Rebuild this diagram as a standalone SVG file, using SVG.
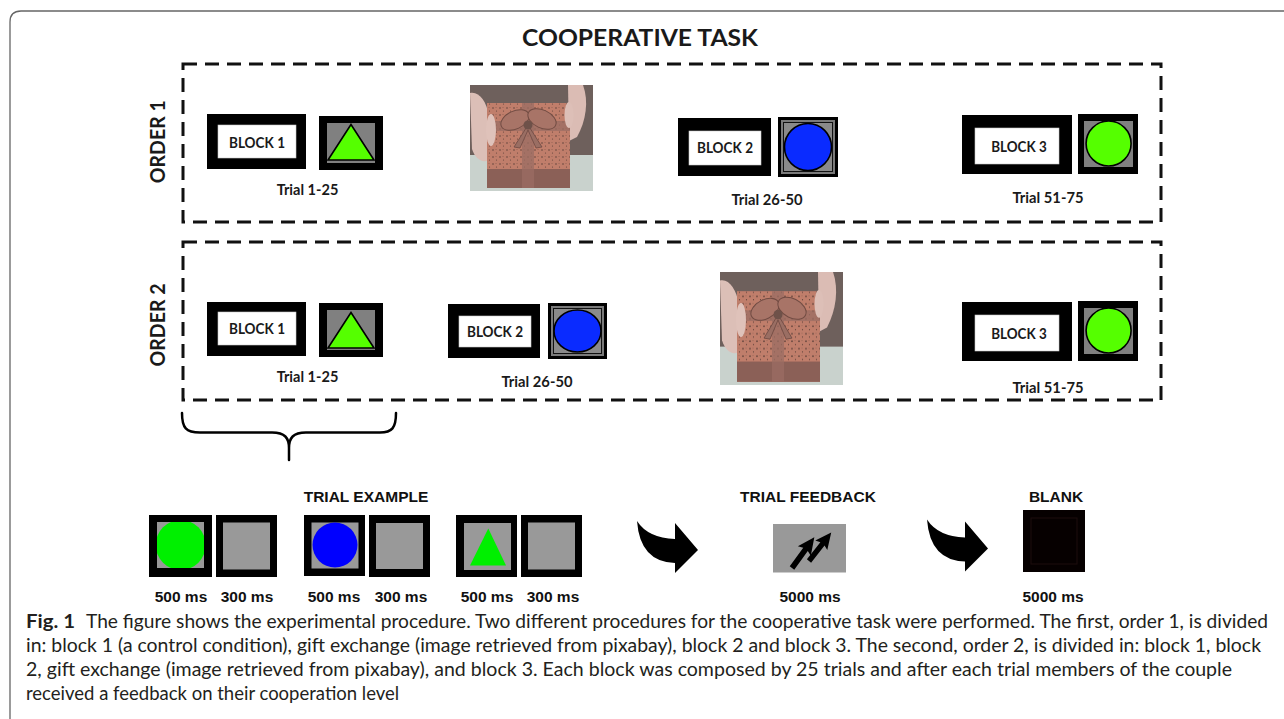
<svg xmlns="http://www.w3.org/2000/svg" width="1284" height="719" viewBox="0 0 1284 719">
<style>
.dash{fill:none;stroke:#111;stroke-width:3;stroke-dasharray:14 8}
.blk{fill:#000}
.wht{fill:#fff;stroke:#c8c8c8;stroke-width:.6}
.gry{fill:#808080}
.gry2{fill:#999}
.lbl{font-family:Lato,'Liberation Sans',sans-serif;font-weight:700;fill:#1a1a1a;text-anchor:middle}
.blab{font-size:15px}
.tri{font-size:14.5px}
.ord{font-size:20px}
.ar{font-family:'Liberation Sans',Arial,sans-serif;font-weight:700;fill:#111;text-anchor:middle;font-size:15.5px}
.cap{font-family:Lato,'Liberation Sans',sans-serif;font-size:18.5px;fill:#231f20}
.green{fill:#55ff00;stroke:#000;stroke-width:1.6}
.blue{fill:#0a2bff;stroke:#000;stroke-width:1.6}
.conn{fill:none;stroke:#000;stroke-width:2.5;stroke-linecap:round}
</style>
<defs>
<pattern id="speck" width="7" height="7" patternUnits="userSpaceOnUse">
<circle cx="2" cy="2" r="0.8" fill="#4a2820"/><circle cx="5.5" cy="5" r="0.6" fill="#4a2820"/><circle cx="5" cy="1.5" r="0.4" fill="#4a2820"/>
</pattern>
<symbol id="gift" viewBox="0 0 123 106" preserveAspectRatio="none">
<rect x="0" y="0" width="123" height="72" fill="#5b4a46"/>
<rect x="0" y="70" width="123" height="36" fill="#c2ccc7"/>
<path d="M0,8 C9,6 16,16 19,30 L23,72 C15,80 6,76 2,64 Z" fill="#d8b7ae"/>
<path d="M98,0 L113,0 C119,16 116,36 107,52 L99,56 Z" fill="#d6b3aa"/>
<rect x="17" y="18" width="83" height="85" fill="#b86d57"/>
<rect x="17" y="18" width="83" height="66" fill="url(#speck)"/>
<rect x="17" y="84" width="83" height="19" fill="#7b4a40"/>
<rect x="52" y="18" width="12" height="85" fill="#8d5a4e" opacity="0.75"/>
<rect x="17" y="36" width="83" height="10" fill="#8d5a4e" opacity="0.75"/>
<ellipse cx="45" cy="35" rx="15" ry="9" transform="rotate(-25 45 35)" fill="#9c6153" stroke="#5e3329" stroke-width="1"/>
<ellipse cx="72" cy="34" rx="15" ry="9" transform="rotate(25 72 34)" fill="#9c6153" stroke="#5e3329" stroke-width="1"/>
<path d="M58,40 L44,62 L50,63 L58,45 L66,63 L72,62 Z" fill="#8d5a4e" stroke="#5a3028" stroke-width="0.8"/>
<circle cx="58" cy="40" r="4.5" fill="#5a3a30"/>
<ellipse cx="21" cy="45" rx="5" ry="16" fill="#dbbab1"/>
<ellipse cx="99" cy="30" rx="4.5" ry="13" fill="#d9b7ae"/>
<rect x="0" y="0" width="123" height="106" fill="#fff" opacity="0.12"/>
</symbol>
<clipPath id="c1"><rect x="1084" y="121" width="49" height="46"/></clipPath>
<clipPath id="c2"><rect x="1084" y="308" width="49" height="46"/></clipPath>
<clipPath id="c3"><rect x="157" y="522" width="47" height="46"/></clipPath>
<polygon id="fbarrow" points="0,-2.8 23,-2.8 21,-8 38,0 21,8 23,2.8 0,2.8" fill="#000"/>
<path id="curv" d="M637,521 Q648,538 675,539 L675,523 L698,550 L675,573 L675,563 Q640,562 637,521 Z" fill="#000"/>
</defs>

<rect x="0" y="0" width="1284" height="719" fill="#fff"/>
<path d="M10,719 L10,22 Q10,11 21,11 L1284,11" fill="none" stroke="#666" stroke-width="1.3"/>

<text class="lbl" x="640" y="46" font-size="22" textLength="236" lengthAdjust="spacingAndGlyphs">COOPERATIVE TASK</text>

<g id="order1">
<rect class="dash" x="183" y="64" width="978" height="158"/>
<text class="lbl ord" transform="translate(165,141.7) rotate(-90)" textLength="83" lengthAdjust="spacingAndGlyphs">ORDER 1</text>
</g>
<g id="order2">
<rect class="dash" x="183" y="242" width="978" height="158"/>
<text class="lbl ord" transform="translate(165,325) rotate(-90)" textLength="83" lengthAdjust="spacingAndGlyphs">ORDER 2</text>
</g>

<g id="o1-block1">
<rect class="blk" x="207" y="114" width="99" height="55"/>
<rect class="wht" x="218" y="125" width="78" height="33"/>
<text class="lbl blab" x="257" y="147.5" textLength="56" lengthAdjust="spacingAndGlyphs">BLOCK 1</text>
<rect class="blk" x="319" y="116" width="64" height="54"/>
<rect class="gry" x="327" y="123" width="48" height="40"/>
<polygon class="green" points="351,124.5 328,160 374,160"/>
<text class="lbl tri" x="307.5" y="195" textLength="61.7" lengthAdjust="spacingAndGlyphs">Trial 1-25</text>
</g>
<g id="o1-gift"><use href="#gift" x="470" y="85" width="123" height="106"/></g>
<g id="o1-block2">
<rect class="blk" x="678" y="118" width="93" height="58"/>
<rect class="wht" x="689" y="131" width="72" height="34"/>
<text class="lbl blab" x="725" y="153" textLength="56" lengthAdjust="spacingAndGlyphs">BLOCK 2</text>
<rect class="blk" x="778" y="117" width="60" height="60"/>
<rect fill="#7a7a7a" x="781" y="120" width="54" height="54"/>
<rect fill="#8a8a8a" stroke="#111" stroke-width="1" x="783.5" y="122.5" width="49" height="49"/>
<circle class="blue" cx="808" cy="147" r="23.5"/>
<text class="lbl tri" x="767" y="205" textLength="71" lengthAdjust="spacingAndGlyphs">Trial 26-50</text>
</g>
<g id="o1-block3">
<rect class="blk" x="962" y="115" width="110" height="59"/>
<rect class="wht" x="975" y="128" width="84" height="36"/>
<text class="lbl blab" x="1019" y="151.5" textLength="55.5" lengthAdjust="spacingAndGlyphs">BLOCK 3</text>
<rect class="blk" x="1078" y="114" width="60" height="60"/>
<rect class="gry" x="1084" y="121" width="49" height="46"/>
<circle class="green" cx="1108.6" cy="143.5" r="22.5" clip-path="url(#c1)"/>
<text class="lbl tri" x="1048" y="203" textLength="71" lengthAdjust="spacingAndGlyphs">Trial 51-75</text>
</g>

<g id="o2-block1">
<rect class="blk" x="207" y="302" width="99" height="54"/>
<rect class="wht" x="218" y="312" width="78" height="33"/>
<text class="lbl blab" x="257" y="334" textLength="56" lengthAdjust="spacingAndGlyphs">BLOCK 1</text>
<rect class="blk" x="319" y="303" width="64" height="54"/>
<rect class="gry" x="327" y="310" width="48" height="40"/>
<polygon class="green" points="351,312.5 328,348 374,348"/>
<text class="lbl tri" x="307.5" y="382" textLength="61.7" lengthAdjust="spacingAndGlyphs">Trial 1-25</text>
</g>
<g id="o2-block2">
<rect class="blk" x="448" y="304" width="92" height="54"/>
<rect class="wht" x="459" y="316" width="72" height="31"/>
<text class="lbl blab" x="495" y="337" textLength="56" lengthAdjust="spacingAndGlyphs">BLOCK 2</text>
<rect class="blk" x="548" y="303" width="59" height="56"/>
<rect fill="#7a7a7a" x="551" y="306" width="53" height="50"/>
<rect fill="#8a8a8a" stroke="#111" stroke-width="1" x="553.5" y="308.5" width="48" height="45"/>
<ellipse class="blue" cx="577.5" cy="331" rx="23.5" ry="21"/>
<text class="lbl tri" x="537" y="387" textLength="71" lengthAdjust="spacingAndGlyphs">Trial 26-50</text>
</g>
<g id="o2-gift"><use href="#gift" x="720" y="272" width="123" height="113"/></g>
<g id="o2-block3">
<rect class="blk" x="962" y="302" width="110" height="59"/>
<rect class="wht" x="975" y="315" width="84" height="36"/>
<text class="lbl blab" x="1019" y="338.5" textLength="55.5" lengthAdjust="spacingAndGlyphs">BLOCK 3</text>
<rect class="blk" x="1078" y="301" width="60" height="60"/>
<rect class="gry" x="1084" y="308" width="49" height="46"/>
<circle class="green" cx="1108.6" cy="330.5" r="22.5" clip-path="url(#c2)"/>
<text class="lbl tri" x="1048" y="393" textLength="71" lengthAdjust="spacingAndGlyphs">Trial 51-75</text>
</g>

<g id="connectors">
<path class="conn" d="M182,413 C182,428 186,432.5 200,432.5 L272,432.5 C285,432.5 289,438 289,448 L289,460 M289,448 C289,438 293,432.5 306,432.5 L380,432.5 C392,432.5 396,428 396,413"/>
<use href="#curv"/>
<use href="#curv" transform="translate(290,-1.5)"/>
</g>

<g id="trial-example">
<text class="ar" x="366" y="502">TRIAL EXAMPLE</text>
<rect class="blk" x="149" y="515" width="63" height="62"/>
<rect class="gry2" x="157" y="522" width="47" height="46"/>
<circle cx="180.7" cy="545" r="25" fill="#00f000" clip-path="url(#c3)"/>
<rect class="blk" x="216" y="515" width="61" height="62"/>
<rect class="gry2" x="223" y="522.5" width="47" height="47"/>
<rect class="blk" x="304" y="515" width="61" height="61"/>
<rect class="gry2" x="311.5" y="522.5" width="47" height="46"/>
<circle cx="335" cy="545" r="22.5" fill="#0000ff"/>
<rect class="blk" x="369" y="515" width="61" height="62"/>
<rect class="gry2" x="376" y="523" width="47" height="46"/>
<rect class="blk" x="456" y="515" width="61" height="62"/>
<rect class="gry2" x="464" y="523" width="47" height="47"/>
<polygon points="488.3,528.5 470,565.5 506,565.5" fill="#00f000"/>
<rect class="blk" x="521" y="515" width="61" height="62"/>
<rect class="gry2" x="528" y="522.5" width="47" height="47"/>
<text class="ar" x="181" y="602">500 ms</text>
<text class="ar" x="247" y="602">300 ms</text>
<text class="ar" x="334" y="602">500 ms</text>
<text class="ar" x="401" y="602">300 ms</text>
<text class="ar" x="487" y="602">500 ms</text>
<text class="ar" x="553" y="602">300 ms</text>
</g>

<g id="trial-feedback">
<text class="ar" x="808" y="502">TRIAL FEEDBACK</text>
<rect class="gry2" x="773" y="524" width="73" height="48.5"/>
<use href="#fbarrow" transform="translate(792,568) rotate(-54)"/>
<use href="#fbarrow" transform="translate(809,561) rotate(-52) scale(0.95)"/>
<text class="ar" x="810" y="602">5000 ms</text>
</g>

<g id="blank">
<text class="ar" x="1056" y="502">BLANK</text>
<rect x="1023" y="510" width="62" height="62" fill="#060000"/>
<rect x="1031" y="518" width="46" height="46" fill="none" stroke="#1c0c0c" stroke-width="1"/>
<text class="ar" x="1053" y="602">5000 ms</text>
</g>

<g id="caption">
<text class="cap" x="26" y="628" font-weight="700" font-size="18.5" textLength="49" lengthAdjust="spacingAndGlyphs">Fig. 1</text>
<text class="cap" x="86" y="628" textLength="1182" lengthAdjust="spacingAndGlyphs">The figure shows the experimental procedure. Two different procedures for the cooperative task were performed. The first, order 1, is divided</text>
<text class="cap" x="26" y="652" textLength="1235" lengthAdjust="spacingAndGlyphs">in: block 1 (a control condition), gift exchange (image retrieved from pixabay), block 2 and block 3. The second, order 2, is divided in: block 1, block</text>
<text class="cap" x="26" y="676" textLength="1206" lengthAdjust="spacingAndGlyphs">2, gift exchange (image retrieved from pixabay), and block 3. Each block was composed by 25 trials and after each trial members of the couple</text>
<text class="cap" x="26" y="700">received a feedback on their cooperation level</text>
</g>
</svg>
